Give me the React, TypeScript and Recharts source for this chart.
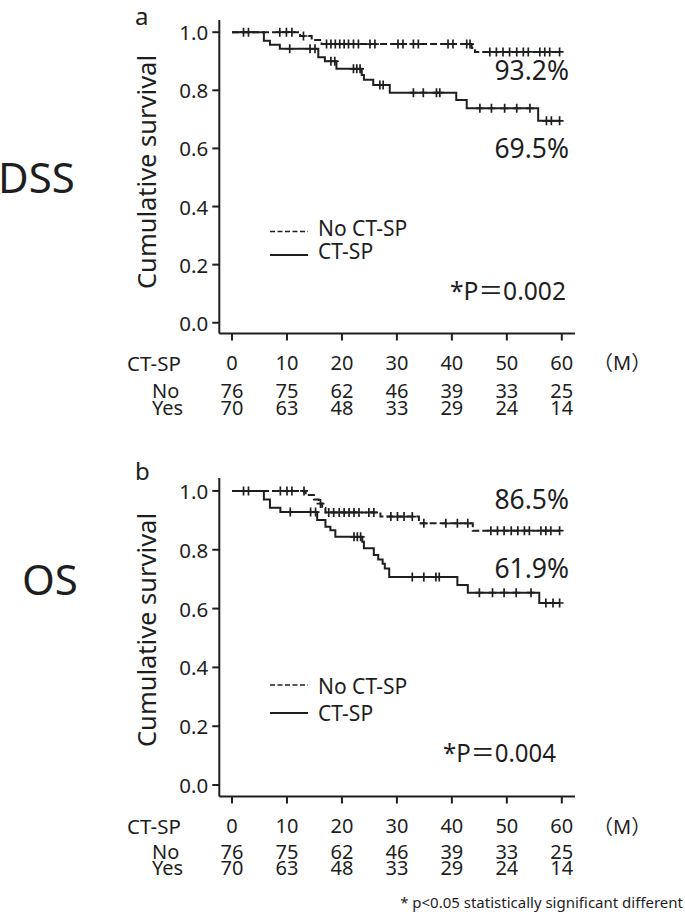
import React from "react";
import { ComposedChart, Line, Scatter, XAxis, YAxis } from "recharts";

const months = [0, 10, 20, 30, 40, 50, 60];
const atRiskNo = [76, 75, 62, 46, 39, 33, 25];
const atRiskYes = [70, 63, 48, 33, 29, 24, 14];
const yTicks = [0, 0.2, 0.4, 0.6, 0.8, 1.0];

// DSS — No CT-SP (dashed)
const dssNoEvents = [
  { t: 0, s: 1.0 }, { t: 12.4, s: 0.987 }, { t: 14.5, s: 0.973 }, { t: 16.3, s: 0.959 },
  { t: 43.6, s: 0.946 }, { t: 44.2, s: 0.932 },
];
const dssNoCensor = [8.7, 9.9, 10.9, 13.0, 17.2, 18.0, 18.8, 19.6, 20.4, 21.2, 22.1, 23.0, 25.1, 26.0,
  30.2, 31.1, 33.0, 33.9, 39.3, 40.2, 42.7, 43.3, 46.9, 48.1, 49.3, 50.5, 51.8, 53.0, 53.9, 56.0, 56.9, 57.8, 59.6];
// DSS — CT-SP (solid)
const dssYesEvents = [
  { t: 0, s: 1.0 }, { t: 5.8, s: 0.971 }, { t: 6.9, s: 0.957 }, { t: 8.7, s: 0.943 },
  { t: 15.7, s: 0.914 }, { t: 16.9, s: 0.9 }, { t: 19.0, s: 0.874 }, { t: 23.6, s: 0.853 },
  { t: 24.0, s: 0.836 }, { t: 25.7, s: 0.818 }, { t: 28.7, s: 0.792 }, { t: 40.8, s: 0.767 },
  { t: 42.7, s: 0.738 }, { t: 55.7, s: 0.695 },
];
const dssYesCensor = [2.1, 3.0, 10.5, 14.2, 15.1, 18.0, 18.7, 22.1, 22.7, 23.3, 26.9, 27.5, 33.0, 34.8, 37.2, 37.8,
  45.1, 47.2, 49.6, 51.8, 54.2, 57.2, 58.1, 59.6];

// OS — No CT-SP (dashed)
const osNoEvents = [
  { t: 0, s: 1.0 }, { t: 13.4, s: 0.986 }, { t: 14.9, s: 0.971 }, { t: 15.8, s: 0.957 },
  { t: 16.4, s: 0.942 }, { t: 17.0, s: 0.927 }, { t: 27.0, s: 0.913 }, { t: 34.0, s: 0.89 },
  { t: 43.8, s: 0.865 },
];
const osNoCensor = [8.8, 10.0, 10.9, 13.1, 16.1, 17.6, 18.5, 19.5, 20.4, 21.3, 22.2, 23.1, 24.9, 25.8,
  28.9, 30.1, 31.3, 32.8, 34.9, 38.9, 41.0, 42.9, 47.1, 48.3, 49.5, 50.8, 52.0, 53.2, 54.1, 56.2, 57.1, 58.0, 59.6];
// OS — CT-SP (solid)
const osYesEvents = [
  { t: 0, s: 1.0 }, { t: 5.8, s: 0.971 }, { t: 6.9, s: 0.943 }, { t: 8.8, s: 0.928 },
  { t: 15.5, s: 0.901 }, { t: 17.0, s: 0.878 }, { t: 17.9, s: 0.866 }, { t: 18.8, s: 0.844 },
  { t: 23.7, s: 0.827 }, { t: 24.0, s: 0.805 }, { t: 25.8, s: 0.782 }, { t: 26.6, s: 0.767 },
  { t: 27.4, s: 0.752 }, { t: 27.8, s: 0.736 }, { t: 28.6, s: 0.707 }, { t: 41.0, s: 0.68 },
  { t: 42.9, s: 0.654 }, { t: 55.9, s: 0.619 },
];
const osYesCensor = [2.1, 3.0, 10.6, 14.3, 15.2, 22.2, 22.8, 23.4, 32.8, 34.9, 37.1, 37.7,
  45.0, 47.4, 49.5, 51.7, 54.4, 57.1, 58.4, 59.6];

const FONT = "'Noto Sans', 'Noto Sans CJK JP', sans-serif";
const INK = "#1e1e1e";

function survAt(events: { t: number; s: number }[], t: number) {
  let s = 1;
  for (const e of events) if (e.t <= t) s = e.s;
  return s;
}

function lineData(events: { t: number; s: number }[], censor: number[]) {
  const end = Math.max(...censor);
  return [...events, { t: end, s: events[events.length - 1].s }];
}

function censorData(events: { t: number; s: number }[], censor: number[]) {
  return censor.map((t) => ({ t, s: survAt(events, t) }));
}

const CensorMark = (props: any) => {
  const { cx, cy } = props;
  if (cx == null || cy == null) return <g />;
  return (
    <path d={`M${cx - 4},${cy} H${cx + 4} M${cx},${cy - 4.5} V${cy + 4.5}`} stroke={INK} strokeWidth={1.7} fill="none" />
  );
};

function MonthTick(props: any) {
  const { x, y, payload, offs } = props;
  const i = months.indexOf(payload.value);
  return (
    <g fontFamily={FONT} fontSize={20} fill={INK}>
      <text x={x} y={y + offs[0]} textAnchor="middle" dominantBaseline="central">{payload.value}</text>
      <text x={x} y={y + offs[1]} textAnchor="middle" dominantBaseline="central">{atRiskNo[i]}</text>
      <text x={x} y={y + offs[2]} textAnchor="middle" dominantBaseline="central">{atRiskYes[i]}</text>
    </g>
  );
}

function YTick(props: any) {
  const { x, y, payload } = props;
  return (
    <text x={x} y={y} textAnchor="end" dominantBaseline="central" fontFamily={FONT} fontSize={20.5} fill={INK}>
      {payload.value.toFixed(1)}
    </text>
  );
}

type KMProps = {
  top: number;
  plotTop: number;
  plotBottom: number;
  yDomain: [number, number];
  offs: number[];
  noEv: { t: number; s: number }[];
  noCen: number[];
  yesEv: { t: number; s: number }[];
  yesCen: number[];
};

function KMChart({ top, plotTop, plotBottom, yDomain, offs, noEv, noCen, yesEv, yesCen }: KMProps) {
  const H = 440;
  const xAxisH = 80;
  const yAxisW = 60;
  return (
    <div style={{ position: "absolute", left: 0, top, width: 685, height: H }}>
      <ComposedChart
        width={685}
        height={H}
        margin={{ top: plotTop, right: 110, bottom: H - plotBottom - xAxisH, left: 219.3 - yAxisW }}
      >
        <XAxis
          type="number"
          dataKey="t"
          domain={[-2.31, 62.4]}
          ticks={months}
          allowDataOverflow
          height={xAxisH}
          tickSize={7}
          tickMargin={0}
          axisLine={{ stroke: INK, strokeWidth: 2 }}
          tickLine={{ stroke: INK, strokeWidth: 2 }}
          tick={(p: any) => <MonthTick {...p} offs={offs} />}
          interval={0}
        />
        <YAxis
          type="number"
          dataKey="s"
          domain={yDomain}
          ticks={yTicks}
          allowDataOverflow
          width={yAxisW}
          tickSize={7}
          tickMargin={4}
          axisLine={{ stroke: INK, strokeWidth: 2 }}
          tickLine={{ stroke: INK, strokeWidth: 2 }}
          tick={(p: any) => <YTick {...p} />}
          interval={0}
        />
        <Line
          data={lineData(yesEv, yesCen)}
          dataKey="s"
          type="stepAfter"
          stroke={INK}
          strokeWidth={2}
          dot={false}
          activeDot={false}
          isAnimationActive={false}
        />
        <Line
          data={lineData(noEv, noCen)}
          dataKey="s"
          type="stepAfter"
          stroke={INK}
          strokeWidth={2}
          strokeDasharray="7 3"
          dot={false}
          activeDot={false}
          isAnimationActive={false}
        />
        <Scatter data={censorData(yesEv, yesCen)} dataKey="s" shape={CensorMark} isAnimationActive={false} />
        <Scatter data={censorData(noEv, noCen)} dataKey="s" shape={CensorMark} isAnimationActive={false} />
      </ComposedChart>
    </div>
  );
}

function Overlay() {
  const t = (x: number, y: number, s: string, size: number, anchor: string = "start", extra: any = {}) => (
    <text x={x} y={y} fontSize={size} textAnchor={anchor as any} dominantBaseline="central" fontFamily={FONT} fill={INK} {...extra}>
      {s}
    </text>
  );
  return (
    <svg width={685} height={918} style={{ position: "absolute", left: 0, top: 0, pointerEvents: "none" }}>
      {/* panel a */}
      <text x={135} y={25} fontSize={24} fontFamily={FONT} fill={INK}>a</text>
      {t(-2, 176, "DSS", 42)}
      {t(146, 172, "Cumulative survival", 25.5, "middle", { transform: "rotate(-90 146 172)" })}
      {t(569, 70, "93.2%", 26.5, "end")}
      {t(569, 148, "69.5%", 26.5, "end")}
      <line x1={270} x2={308} y1={231.5} y2={231.5} stroke={INK} strokeWidth={1.6} strokeDasharray="5 2.5" />
      {t(318, 228, "No CT-SP", 21)}
      <line x1={270} x2={308} y1={255} y2={255} stroke={INK} strokeWidth={2} />
      {t(318, 250.5, "CT-SP", 21)}
      {t(566, 290, "*P＝0.002", 26, "end", { textLength: 116, lengthAdjust: "spacingAndGlyphs" })}
      {t(127, 362.5, "CT-SP", 20.5)}
      {t(152, 390.5, "No", 20)}
      {t(152, 407.5, "Yes", 20)}
      {t(593, 362.5, "（M）", 20)}

      {/* panel b */}
      <text x={135} y={480} fontSize={24} fontFamily={FONT} fill={INK}>b</text>
      {t(22, 578, "OS", 42)}
      {t(146, 630, "Cumulative survival", 25.5, "middle", { transform: "rotate(-90 146 630)" })}
      {t(569, 499, "86.5%", 26.5, "end")}
      {t(569, 568, "61.9%", 26.5, "end")}
      <line x1={270} x2={308} y1={685} y2={685} stroke={INK} strokeWidth={1.6} strokeDasharray="5 2.5" />
      {t(318, 686, "No CT-SP", 21)}
      <line x1={270} x2={308} y1={713} y2={713} stroke={INK} strokeWidth={2} />
      {t(318, 713, "CT-SP", 21)}
      {t(556, 752, "*P＝0.004", 26, "end", { textLength: 113, lengthAdjust: "spacingAndGlyphs" })}
      {t(127, 825.5, "CT-SP", 20.5)}
      {t(152, 851, "No", 20)}
      {t(152, 867.5, "Yes", 20)}
      {t(593, 826, "（M）", 20)}

      {t(683, 902, "* p<0.05 statistically significant different", 15, "end")}
    </svg>
  );
}

export default function App() {
  return (
    <div style={{ position: "absolute", left: 0, top: 0, width: 685, height: 918, background: "#fff", overflow: "hidden" }}>
      <KMChart
        top={0}
        plotTop={20}
        plotBottom={333.5}
        yDomain={[-0.037, 1.042]}
        offs={[22, 50, 67]}
        noEv={dssNoEvents}
        noCen={dssNoCensor}
        yesEv={dssYesEvents}
        yesCen={dssYesCensor}
      />
      <KMChart
        top={460}
        plotTop={18}
        plotBottom={336.5}
        yDomain={[-0.039, 1.044]}
        offs={[22, 47.5, 64]}
        noEv={osNoEvents}
        noCen={osNoCensor}
        yesEv={osYesEvents}
        yesCen={osYesCensor}
      />
      <Overlay />
    </div>
  );
}
